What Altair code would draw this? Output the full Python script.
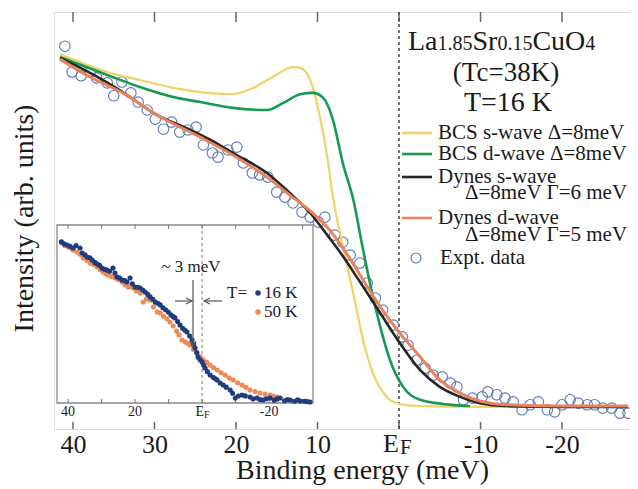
import altair as alt
import pandas as pd

FONT = "Liberation Serif"

# ---------------- data ----------------
tick_values = [40, 30, 20, 10, 0, -10, -20]

bcs_s_E = [41.6, 35.8, 31.8, 27.7, 24.4, 20.4, 17.9, 15.5, 13.0, 12.1, 10.9, 9.7, 8.8, 8.1, 7.2, 6.4, 5.4, 4.4, 3.2, 1.5, -0.1, -2.6, -10.0, -20.0, -28.1]
bcs_s_I = [89.9, 85.6, 83.7, 81.8, 80.8, 80.3, 81.8, 84.4, 86.8, 86.6, 83.7, 74.8, 65.2, 55.6, 46.5, 39.5, 30.5, 21.3, 13.4, 7.7, 6.0, 5.5, 5.3, 5.3, 5.3]

bcs_d_E = [41.6, 35.8, 31.8, 27.7, 24.4, 20.4, 16.2, 14.2, 12.1, 10.6, 9.3, 8.1, 6.9, 5.6, 4.4, 3.3, 2.3, 1.1, -0.5, -2.6, -5.4, -8.7]
bcs_d_I = [89.2, 84.9, 82.0, 79.6, 78.4, 77.0, 76.5, 78.2, 80.3, 80.6, 79.4, 74.1, 63.8, 54.9, 42.9, 32.6, 24.5, 16.5, 10.1, 7.0, 6.0, 5.5]

dynes_s_E = [41.6, 37.9, 33.9, 29.7, 25.6, 22.0, 20.4, 16.2, 13.4, 10.9, 8.8, 6.9, 4.8, 2.3, -0.1, -2.6, -5.0, -7.5, -9.9, -13.3, -20.0, -28.1]
dynes_s_I = [89.0, 85.4, 80.8, 75.3, 71.7, 68.1, 66.2, 61.4, 56.6, 51.8, 46.5, 41.5, 35.3, 27.8, 20.6, 14.1, 10.1, 7.7, 6.2, 5.5, 5.3, 5.3]

dynes_d_E = [41.6, 37.9, 33.9, 29.7, 24.4, 20.4, 16.2, 13.4, 10.9, 8.5, 6.4, 4.8, 2.3, -0.1, -2.6, -5.0, -7.5, -9.9, -13.3, -20.0, -28.1]
dynes_d_I = [88.7, 84.4, 80.6, 75.3, 70.0, 65.7, 60.4, 56.1, 52.3, 47.7, 42.0, 37.0, 29.3, 23.0, 17.3, 11.8, 8.6, 6.7, 5.8, 5.5, 5.5]

expt_E = [41.0, 40.1, 39.0, 37.9, 37.1, 35.8, 35.0, 34.0, 32.9, 32.0, 30.9, 29.9, 28.9, 27.9, 26.9,
          25.9, 24.9, 24.0, 22.9, 22.2, 21.0, 19.9, 19.1, 18.0, 17.1, 16.1, 15.0, 14.0, 13.0, 11.9,
          10.9, 9.9, 9.1, 7.9, 6.9, 6.0, 4.8, 3.9, 2.9, 2.0, 0.7, -0.4, -1.1, -2.2, -3.2, -4.2,
          -5.3, -6.3, -7.1, -7.9, -9.0, -10.2, -10.9, -12.0, -13.0, -14.0, -15.1, -16.1, -17.1,
          -18.2, -19.1, -20.0, -21.0, -22.0, -23.1, -24.0, -25.0, -26.1, -27.1, -28.1]
expt_I = [91.8, 85.6, 84.7, 85.6, 84.2, 83.0, 79.9, 83.2, 80.6, 78.4, 76.5, 74.3, 71.9, 73.6, 71.2,
          71.7, 72.4, 68.1, 66.2, 65.2, 66.9, 67.6, 63.8, 61.4, 60.9, 60.4, 56.8, 55.6, 54.2, 52.0,
          50.8, 49.6, 50.8, 46.5, 44.8, 41.7, 39.8, 35.0, 31.4, 28.5, 24.9, 22.1, 20.1, 16.5, 14.6, 12.9,
          12.5, 11.0, 10.1, 7.0, 7.4, 7.7, 8.9, 8.2, 7.4, 6.5, 4.6, 5.8, 6.5,
          4.6, 4.1, 5.8, 7.0, 6.2, 5.8, 5.8, 5.0, 5.0, 3.8, 3.8]

# inset
inset_ticks = [40, 30, 20, 10, 0, -10, -20, -30]
inset_label_E = [40, 20, -20]
inset_label_text = ["40", "20", "-20"]

t16_E = [42.0, 41.2, 40.3, 39.4, 38.5, 37.6, 36.4, 35.8, 35.0, 34.3, 33.5, 32.8, 32.0, 31.3, 30.6,
         29.9, 29.1, 28.4, 27.6, 26.6, 26.0, 25.4, 24.6, 23.9, 23.1, 22.4, 21.5, 20.8, 20.0, 19.2,
         18.5, 17.7, 17.0, 16.2, 15.5, 14.7, 14.0, 13.2, 12.5, 11.7, 10.9, 10.1, 9.3, 8.6, 8.1,
         7.3, 6.6, 5.8, 5.1, 4.5, 3.7, 3.0, 2.5, 2.1, 1.6, 1.2, 0.6, 0.0, -0.5, -0.9,
         -1.6, -2.4, -3.3, -4.0, -4.5, -5.4, -6.3, -7.2, -8.4, -9.1, -9.9, -10.8, -11.9, -12.9, -14.3,
         -15.2, -16.4, -17.3, -18.2, -19.2, -20.3, -21.5, -22.4, -23.3, -24.6, -25.5, -26.3, -27.6, -28.5, -29.3,
         -30.6, -31.4, -32.2]
t16_I = [90.5, 89.4, 88.8, 88.0, 87.1, 88.4, 87.1, 84.3, 83.3, 82.0, 81.6, 80.3, 79.0, 78.1, 77.4,
         75.8, 75.1, 74.7, 74.0, 75.8, 73.0, 70.8, 70.2, 69.1, 68.8, 68.0, 70.2, 67.0, 65.2, 65.0,
         64.6, 63.5, 62.4, 61.0, 59.6, 58.3, 56.7, 56.0, 55.1, 53.5, 52.4, 51.1, 49.5, 48.5, 47.8,
         45.8, 43.8, 42.0, 40.9, 39.9, 37.6, 35.4, 32.8, 30.9, 28.3, 25.8, 24.3, 23.0, 21.2, 19.7,
         17.6, 15.7, 14.4, 13.6, 12.9, 11.2, 10.1, 8.9, 7.3, 5.5, 2.8, 3.9, 4.5, 4.0, 3.4,
         2.3, 2.8, 1.9, 1.7, 2.4, 2.8, 1.6, 2.3, 2.8, 1.3, 2.0, 1.7, 1.0, 1.8, 1.1,
         1.0, 0.8, 0.6]

t50_E = [42.0, 41.0, 40.0, 39.4, 38.4, 37.3, 36.4, 35.5, 34.4, 33.4, 32.4, 31.3, 30.4, 29.6, 28.8,
         28.1, 27.0, 26.0, 25.0, 23.9, 23.0, 22.1, 21.3, 20.6, 19.6, 18.5, 17.6, 16.6, 15.5, 14.5,
         13.4, 12.5, 11.5, 10.5, 9.6, 8.6, 7.6, 6.9, 6.0, 5.0, 4.2, 3.6, 2.6, 1.5, 0.6,
         -0.3, -1.4, -2.4, -3.4, -4.5, -5.7, -6.9, -8.1, -9.3, -10.6, -11.9, -13.1, -14.3, -15.8, -17.3,
         -18.8, -20.3, -21.4, -22.4]
t50_I = [90.4, 88.5, 87.8, 87.1, 85.8, 84.8, 83.5, 81.5, 80.2, 78.7, 77.8, 76.4, 75.0, 73.6, 72.7,
         71.9, 71.0, 70.2, 69.3, 68.0, 66.4, 65.2, 65.5, 64.6, 62.9, 61.8, 56.7, 58.5, 57.9, 54.0,
         51.1, 50.6, 48.7, 47.3, 45.5, 43.3, 40.4, 38.2, 35.4, 34.2, 33.4, 32.6, 30.2, 28.1, 26.0,
         24.2, 22.8, 21.3, 19.9, 18.5, 17.0, 15.7, 14.2, 12.9, 11.4, 10.1, 8.8, 7.3, 6.5, 5.6,
         5.0, 4.5, 3.8, 3.4]

# ---------------- styling ----------------
W, H = 576, 417
C_Y, C_G, C_K, C_O = "#f0d266", "#179a52", "#262626", "#e9835c"
C_EXPT = "#5b78b8"
C_NAVY, C_ORG = "#1f3c7c", "#ef8a58"
TXT = "#1a1a1a"

xs = alt.Scale(domain=[42.33, -28.34], nice=False, zero=False)
ys = alt.Scale(domain=[0, 100], nice=False, zero=False)

x_axis = alt.Axis(
    values=tick_values,
    labelExpr="datum.value == 0 ? '' : (datum.value < 0 ? '-' + abs(datum.value) : '' + datum.value)",
    ticks=False, domain=False, grid=False, labelOverlap=False, labelFlush=False,
    labelFontSize=26, labelPadding=15, labelBaseline="middle", labelColor=TXT, labelFont=FONT,
    title="Binding energy (meV)", titleFontSize=28, titleFont=FONT, titleFontWeight="normal",
    titleColor=TXT, titleX=308, titleY=41, titleBaseline="middle", titleAlign="center",
)
y_axis = alt.Axis(
    labels=False, ticks=False, domain=False, grid=False,
    title="Intensity (arb. units)", titleFontSize=28, titleFont=FONT, titleFontWeight="normal",
    titleColor=TXT, titleX=-30, titleY=206, titleAngle=270, titleBaseline="middle", titleAlign="center",
)

X = lambda: alt.X("E:Q", scale=xs, axis=x_axis)
Y = lambda: alt.Y("I:Q", scale=ys, axis=y_axis)

dummy = pd.DataFrame({"d": [0]})


def txt(s, x, y, size, align="left", baseline="middle", color=TXT, dx=0):
    return alt.Chart(dummy).mark_text(
        text=s, align=align, baseline=baseline, fontSize=size, font=FONT, color=color, dx=dx
    ).encode(x=alt.value(x), y=alt.value(y))


def curve(E, I, color, width):
    df = pd.DataFrame({"E": E, "I": I})
    return alt.Chart(df).mark_line(color=color, strokeWidth=width, interpolate="monotone").encode(x=X(), y=Y())


ticks_df = pd.DataFrame({"E": tick_values, "I": [0] * len(tick_values)})
zero_df = pd.DataFrame({"E": [0], "I": [0]})

main_layers = []
main_layers.append(alt.Chart(ticks_df).mark_rule(color="#666", strokeWidth=1.5).encode(
    x=X(), y=alt.value(0), y2=alt.value(10)))
main_layers.append(alt.Chart(ticks_df).mark_rule(color="#666", strokeWidth=1.5).encode(
    x=X(), y=alt.value(H - 7), y2=alt.value(H)))
main_layers.append(alt.Chart(zero_df).mark_rule(color="#444", strokeWidth=1.5, strokeDash=[3, 3]).encode(
    x=X(), y=alt.value(0), y2=alt.value(H)))
main_layers.append(alt.Chart(pd.DataFrame({"E": expt_E, "I": expt_I})).mark_point(
    shape="circle", filled=False, size=110, color=C_EXPT, strokeWidth=1.1, opacity=1).encode(x=X(), y=Y()))
main_layers.append(curve(bcs_s_E, bcs_s_I, C_Y, 2.2))
main_layers.append(curve(bcs_d_E, bcs_d_I, C_G, 2.6))
main_layers.append(curve(dynes_s_E, dynes_s_I, C_K, 2.6))
main_layers.append(curve(dynes_d_E, dynes_d_I, C_O, 3.0))

# E_F tick label (E with subscript F)
main_layers.append(txt("E", 345, H + 15, 26, align="right"))
main_layers.append(txt("F", 346, H + 19, 21, align="left"))

# compound title La1.85Sr0.15CuO4
EM = {"L": .611, "a": .444, "1": .5, ".": .25, "8": .5, "5": .5, "S": .556, "r": .333,
      "0": .5, "C": .667, "u": .5, "O": .722, "4": .5}
pieces = [("La", 28), ("1.85", 20), ("Sr", 28), ("0.15", 20), ("CuO", 28), ("4", 20)]
xp = 354
for s, f in pieces:
    main_layers.append(txt(s, xp, 38, f, baseline="alphabetic"))
    xp += sum(EM[c] for c in s) * f
main_layers.append(txt("(Tc=38K)", 452, 61, 27, align="center"))
main_layers.append(txt("T=16 K", 454, 91, 28, align="center"))

legend_rows = [("BCS s-wave Δ=8meV", C_Y, 121), ("BCS d-wave Δ=8meV", C_G, 142),
               ("Dynes s-wave", C_K, 165), ("Dynes d-wave", C_O, 206)]
for label, col, yy in legend_rows:
    main_layers.append(alt.Chart(dummy).mark_rule(color=col, strokeWidth=2.6).encode(
        x=alt.value(348), x2=alt.value(378), y=alt.value(yy)))
    main_layers.append(txt(label, 384, yy, 21))
main_layers.append(txt("Δ=8meV Γ=6 meV", 411, 181, 21))
main_layers.append(txt("Δ=8meV Γ=5 meV", 411, 223, 21))
main_layers.append(alt.Chart(dummy).mark_point(shape="circle", filled=False, size=100, color=C_EXPT,
                                               strokeWidth=1.1, opacity=1).encode(x=alt.value(362), y=alt.value(246)))
main_layers.append(txt("Expt. data", 386, 246, 21))

main = alt.layer(*main_layers)

# ---------------- inset ----------------
ixs = alt.Scale(domain=[43.3, -33.1], range=[3, 259], nice=False, zero=False)
iys = alt.Scale(domain=[0, 100], range=[391, 213], nice=False, zero=False)
IX = lambda: alt.X("E:Q", scale=ixs, axis=None)
IY = lambda: alt.Y("I:Q", scale=iys, axis=None)

inset_layers = []
inset_layers.append(alt.Chart(dummy).mark_rect(fill="white", stroke="#888", strokeWidth=1.3).encode(
    x=alt.value(3), x2=alt.value(259), y=alt.value(213), y2=alt.value(391)))
itk = pd.DataFrame({"E": inset_ticks})
inset_layers.append(alt.Chart(itk).mark_rule(color="#777", strokeWidth=1).encode(
    x=IX(), y=alt.value(213), y2=alt.value(217)))
inset_layers.append(alt.Chart(itk).mark_rule(color="#777", strokeWidth=1).encode(
    x=IX(), y=alt.value(387), y2=alt.value(391)))
inset_layers.append(alt.Chart(pd.DataFrame({"E": [0]})).mark_rule(color="#777", strokeWidth=1, strokeDash=[3, 3]).encode(
    x=IX(), y=alt.value(213), y2=alt.value(391)))
inset_layers.append(alt.Chart(pd.DataFrame({"E": t50_E, "I": t50_I})).mark_circle(size=26, color=C_ORG, opacity=1).encode(
    x=IX(), y=IY()))
inset_layers.append(alt.Chart(pd.DataFrame({"E": t16_E, "I": t16_I})).mark_circle(size=26, color=C_NAVY, opacity=1).encode(
    x=IX(), y=IY()))
inset_layers.append(alt.Chart(pd.DataFrame({"E": inset_label_E, "t": inset_label_text})).mark_text(
    fontSize=14, font=FONT, color=TXT, baseline="middle", align="center").encode(
    x=IX(), y=alt.value(400), text="t:N"))
inset_layers.append(alt.Chart(pd.DataFrame({"E": [0]})).mark_text(
    text="E", fontSize=14, font=FONT, color=TXT, baseline="middle", align="right", dx=2).encode(x=IX(), y=alt.value(400)))
inset_layers.append(alt.Chart(pd.DataFrame({"E": [0]})).mark_text(
    text="F", fontSize=10, font=FONT, color=TXT, baseline="middle", align="left", dx=2).encode(x=IX(), y=alt.value(403)))

GR = "#555"
inset_layers.append(txt("~ 3 meV", 137, 255, 17, align="center"))
inset_layers.append(alt.Chart(dummy).mark_rule(color=GR, strokeWidth=1.2).encode(
    x=alt.value(139), y=alt.value(268), y2=alt.value(335)))
inset_layers.append(alt.Chart(dummy).mark_point(shape="M-1,-1L0,1L1,-1", size=36, filled=False, color=GR, strokeWidth=1.2, opacity=1).encode(
    x=alt.value(139), y=alt.value(332)))
inset_layers.append(alt.Chart(dummy).mark_rule(color=GR, strokeWidth=1.2).encode(
    x=alt.value(121), x2=alt.value(138), y=alt.value(289)))
inset_layers.append(alt.Chart(dummy).mark_point(shape="M-1,-1L1,0L-1,1", size=36, filled=False, color=GR, strokeWidth=1.2, opacity=1).encode(
    x=alt.value(135), y=alt.value(289)))
inset_layers.append(alt.Chart(dummy).mark_rule(color=GR, strokeWidth=1.2).encode(
    x=alt.value(150), x2=alt.value(168), y=alt.value(289)))
inset_layers.append(alt.Chart(dummy).mark_point(shape="M1,-1L-1,0L1,1", size=36, filled=False, color=GR, strokeWidth=1.2, opacity=1).encode(
    x=alt.value(153), y=alt.value(289)))
inset_layers.append(txt("T=", 173, 281, 17))
inset_layers.append(alt.Chart(dummy).mark_circle(size=30, color=C_NAVY, opacity=1).encode(x=alt.value(204), y=alt.value(281)))
inset_layers.append(txt("16 K", 210, 281, 17))
inset_layers.append(alt.Chart(dummy).mark_circle(size=30, color=C_ORG, opacity=1).encode(x=alt.value(204), y=alt.value(300)))
inset_layers.append(txt("50 K", 210, 300, 17))

inset = alt.layer(*inset_layers)

chart = alt.layer(main, inset).resolve_scale(x="independent", y="independent").properties(
    width=W, height=H,
    autosize=alt.AutoSizeParams(type="none"),
    padding={"left": 46, "top": 4, "right": 0, "bottom": 58},
    background="white",
).configure_view(stroke="#777", strokeWidth=1.5).configure(font=FONT)

chart.save("out.html", embed_options={"renderer": "svg", "actions": False})
